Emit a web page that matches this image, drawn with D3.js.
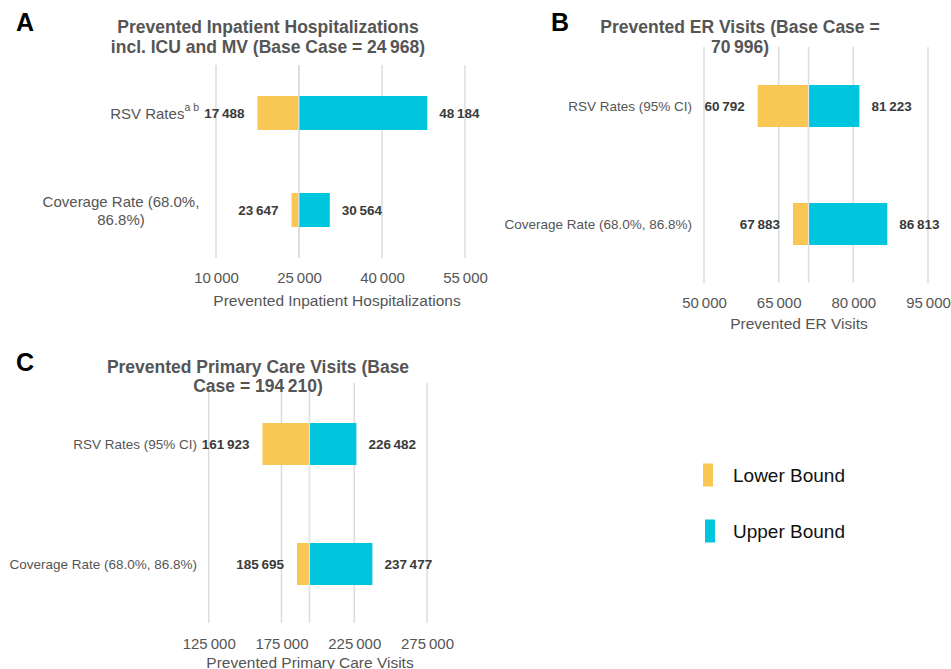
<!DOCTYPE html>
<html>
<head>
<meta charset="utf-8">
<script src="https://cdn.jsdelivr.net/npm/d3@7"></script>
<style>
  html, body { margin: 0; padding: 0; background: #fff; }
  svg { display: block; font-family: "Liberation Sans", Arial, Helvetica, sans-serif; }
</style>
</head>
<body>
<svg id="chart" width="951" height="669"></svg>
<script>
// Tornado diagrams: one-way sensitivity of prevented outcomes
const parameters = ["RSV Rates", "Coverage Rate (68.0%, 86.8%)"];
const seriesNames = ["Lower Bound", "Upper Bound"];

const hospBase = 24968;
const hospLower = [17488, 23647];
const hospUpper = [48184, 30564];
const hospTicks = [10000, 25000, 40000, 55000];

const erBase = 70996;
const erLower = [60792, 67883];
const erUpper = [81223, 86813];
const erTicks = [50000, 65000, 80000, 95000];

const pcBase = 194210;
const pcLower = [161923, 185695];
const pcUpper = [226482, 237477];
const pcTicks = [125000, 175000, 225000, 275000];

const colors = { lower: "#F8C754", upper: "#00C6DD" };
const fmt = d3.formatLocale({ decimal: ".", thousands: "\u2009", grouping: [3], currency: ["", ""] }).format(",d");

const svg = d3.select("#chart");

function panel(cfg) {
  const g = svg.append("g");
  const x = d3.scaleLinear().domain(d3.extent(cfg.ticks)).range(cfg.xRange);
  const y = d3.scalePoint().domain(parameters).range(cfg.yRange);

  // panel letter
  g.append("text").attr("x", cfg.letterX).attr("y", cfg.letterY)
    .attr("font-size", 25).attr("font-weight", "bold").attr("fill", "#000")
    .text(cfg.letter);

  // vertical gridlines at ticks and at the base case
  const gridVals = cfg.ticks.concat([cfg.base]);
  g.append("g").selectAll("line").data(gridVals).join("line")
    .attr("x1", d => x(d)).attr("x2", d => x(d))
    .attr("y1", cfg.gridTop).attr("y2", cfg.gridBottom)
    .attr("stroke", "#dcdcdc").attr("stroke-width", 1.5);

  const rows = parameters.map((p, i) => ({ p, lo: cfg.lower[i], hi: cfg.upper[i] }));

  // lower-bound bars
  g.append("g").selectAll("rect").data(rows).join("rect")
    .attr("x", d => x(d.lo)).attr("width", d => x(cfg.base) - x(d.lo))
    .attr("y", d => y(d.p) - cfg.barH / 2).attr("height", cfg.barH)
    .attr("fill", colors.lower);
  // upper-bound bars
  g.append("g").selectAll("rect").data(rows).join("rect")
    .attr("x", x(cfg.base)).attr("width", d => x(d.hi) - x(cfg.base))
    .attr("y", d => y(d.p) - cfg.barH / 2).attr("height", cfg.barH)
    .attr("fill", colors.upper);
  // base case separator
  g.append("line").attr("x1", x(cfg.base)).attr("x2", x(cfg.base))
    .attr("y1", cfg.yRange[0] - cfg.barH / 2).attr("y2", cfg.yRange[1] + cfg.barH / 2)
    .attr("stroke", "#e4e4e4").attr("stroke-width", 1.2);

  // value labels
  g.append("g").selectAll("text").data(rows).join("text")
    .attr("x", d => x(d.lo) - 13).attr("y", d => y(d.p))
    .attr("text-anchor", "end").attr("dominant-baseline", "central")
    .attr("font-size", 13.5).attr("font-weight", "bold").attr("fill", "#3a3a3a")
    .text(d => fmt(d.lo));
  g.append("g").selectAll("text").data(rows).join("text")
    .attr("x", d => x(d.hi) + 12).attr("y", d => y(d.p))
    .attr("text-anchor", "start").attr("dominant-baseline", "central")
    .attr("font-size", 13.5).attr("font-weight", "bold").attr("fill", "#3a3a3a")
    .text(d => fmt(d.hi));

  // x axis tick labels
  const axis = d3.axisBottom(x).tickValues(cfg.ticks).tickSize(0).tickPadding(0).tickFormat(fmt);
  const ax = g.append("g").attr("transform", `translate(0,${cfg.tickY})`).call(axis);
  ax.select(".domain").remove();
  ax.selectAll("text").attr("font-size", 15).attr("fill", "#555")
    .attr("font-family", "Liberation Sans, Arial, sans-serif")
    .attr("dy", null).attr("y", 0).attr("dominant-baseline", "central");

  // axis title
  g.append("text").attr("x", cfg.axisTitleX).attr("y", cfg.axisTitleY)
    .attr("text-anchor", "middle").attr("dominant-baseline", "central")
    .attr("font-size", 15.5).attr("fill", "#555").text(cfg.axisTitle);

  // chart title
  const t = g.append("text").attr("text-anchor", "middle")
    .attr("font-size", 17.5).attr("font-weight", "bold").attr("fill", "#555");
  cfg.title.forEach((line, i) => {
    t.append("tspan").attr("x", cfg.titleX).attr("y", cfg.titleY[i])
      .attr("dominant-baseline", "central").text(line);
  });

  return { g, x, y };
}

// Panel A
const A = panel({
  letter: "A", letterX: 16, letterY: 31,
  title: ["Prevented Inpatient Hospitalizations", "incl. ICU and MV (Base Case = " + fmt(hospBase) + ")"],
  titleX: 268, titleY: [27, 47],
  ticks: hospTicks, base: hospBase, lower: hospLower, upper: hospUpper,
  xRange: [216, 465], yRange: [113, 210], barH: 34,
  gridTop: 65, gridBottom: 258, tickY: 277,
  axisTitle: "Prevented Inpatient Hospitalizations", axisTitleX: 337, axisTitleY: 300
});
// category labels, panel A
{
  const lab = A.g.append("text").attr("x", 199).attr("y", A.y(parameters[0]))
    .attr("text-anchor", "end").attr("dominant-baseline", "central")
    .attr("font-size", 15).attr("fill", "#555");
  lab.append("tspan").text(parameters[0]);
  lab.append("tspan").attr("font-size", 10.5).attr("dy", -6).text("a b");
  const cov = parameters[1].split(" 86.8%)");
  const lines = [cov[0], "86.8%)"];
  A.g.append("g").selectAll("text").data(lines).join("text")
    .attr("x", 121).attr("y", (d, i) => A.y(parameters[1]) - 9 + i * 18)
    .attr("text-anchor", "middle").attr("dominant-baseline", "central")
    .attr("font-size", 15).attr("fill", "#555").text(d => d);
}

// Panel B
const B = panel({
  letter: "B", letterX: 551, letterY: 31,
  title: ["Prevented ER Visits (Base Case =", fmt(erBase) + ")"],
  titleX: 740, titleY: [27, 47],
  ticks: erTicks, base: erBase, lower: erLower, upper: erUpper,
  xRange: [704, 928], yRange: [106, 224], barH: 42,
  gridTop: 47, gridBottom: 283, tickY: 302,
  axisTitle: "Prevented ER Visits", axisTitleX: 799, axisTitleY: 323
});
B.g.append("g").selectAll("text").data(["RSV Rates (95% CI)", parameters[1]]).join("text")
  .attr("x", 692).attr("y", (d, i) => B.y(parameters[i]))
  .attr("text-anchor", "end").attr("dominant-baseline", "central")
  .attr("font-size", 13.5).attr("fill", "#555").text(d => d);

// Panel C
const C = panel({
  letter: "C", letterX: 16, letterY: 371,
  title: ["Prevented Primary Care Visits (Base", "Case = " + fmt(pcBase) + ")"],
  titleX: 258, titleY: [366.5, 386],
  ticks: pcTicks, base: pcBase, lower: pcLower, upper: pcUpper,
  xRange: [208.7, 427], yRange: [444, 564], barH: 42,
  gridTop: 383, gridBottom: 623, tickY: 643,
  axisTitle: "Prevented Primary Care Visits", axisTitleX: 310, axisTitleY: 662
});
C.g.append("g").selectAll("text").data(["RSV Rates (95% CI)", parameters[1]]).join("text")
  .attr("x", 197).attr("y", (d, i) => C.y(parameters[i]))
  .attr("text-anchor", "end").attr("dominant-baseline", "central")
  .attr("font-size", 13.5).attr("fill", "#555").text(d => d);

// Legend
const legend = svg.append("g");
const legY = d3.scalePoint().domain(seriesNames).range([475, 531]);
legend.selectAll("rect").data(seriesNames).join("rect")
  .attr("x", (d, i) => 703 + i * 2).attr("y", d => legY(d) - 11.5)
  .attr("width", 10).attr("height", 23)
  .attr("fill", (d, i) => i === 0 ? colors.lower : colors.upper);
legend.selectAll("text").data(seriesNames).join("text")
  .attr("x", 733).attr("y", d => legY(d))
  .attr("dominant-baseline", "central")
  .attr("font-size", 19).attr("fill", "#111").text(d => d);
</script>
</body>
</html>
